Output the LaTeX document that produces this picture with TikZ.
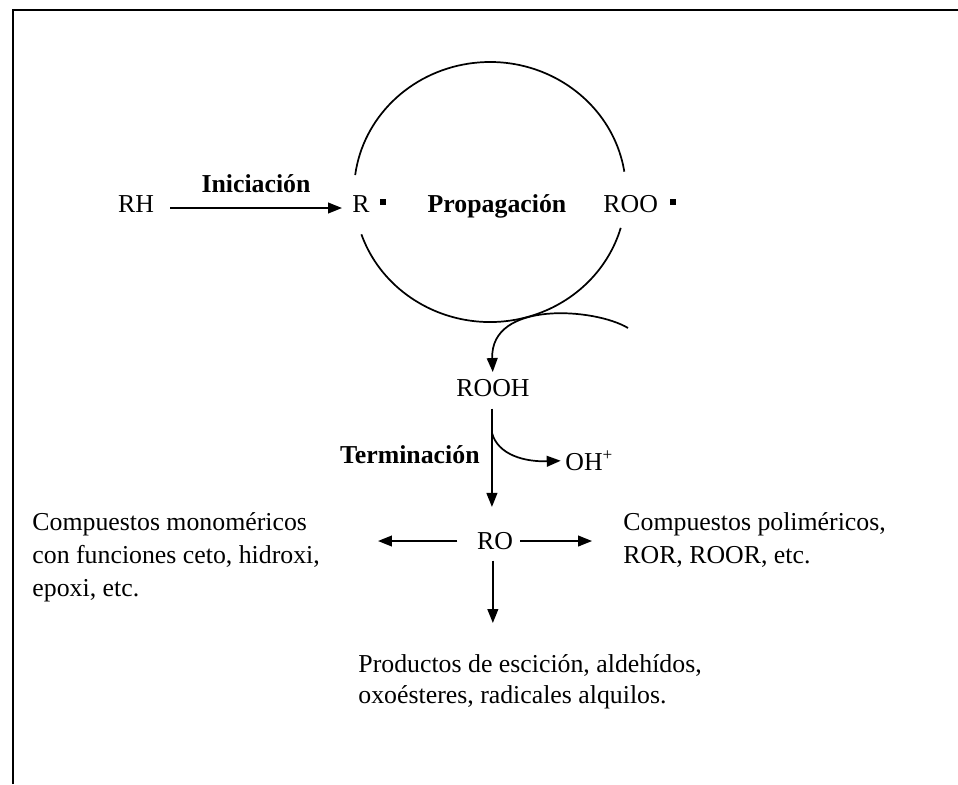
\documentclass[tikz,border=0pt]{standalone}
\usepackage{fontspec}
\setmainfont{Liberation Serif}
\usetikzlibrary{arrows.meta}

\newcommand{\radpunto}{\raisebox{3.3pt}{\rule{2.8pt}{2.8pt}}}

\begin{document}
\begin{tikzpicture}[x=0.465pt, y=0.465pt,
        every node/.style={inner sep=0pt, font=\fontsize{12pt}{15.3pt}\selectfont},
        etiq/.style={font=\fontsize{12pt}{15pt}\selectfont\bfseries},
        flecha/.style={line width=0.8pt, -{Triangle[length=6.5pt, width=5pt]}},
        arco/.style={line width=0.8pt}]
            \useasboundingbox (0,0) rectangle (958,-784);
            \fill[white] (0,0) rectangle (958,-784);
            \draw[line width=1.3pt] (13,-784) -- (13,-10) -- (958,-10); % marco

            \node[anchor=base] (rh) at (136,-212) {RH};
            \node[etiq, anchor=base] (ini) at (256,-192) {Iniciación};
            \node[anchor=base west] (r) at (352,-212) {R\hspace{4.6pt}\radpunto};
            \node[etiq, anchor=base] (prop) at (497,-212) {Propagación};
            \node[anchor=base west] (roo) at (603,-212) {ROO\hspace{5.4pt}\radpunto};

            \coordinate (ciclo) at (490,-192);
            \draw[arco] ([shift={(9:136 and 130)}]ciclo) arc[start angle=9, end angle=172.5, x radius=136, y radius=130];
            \draw[arco] ([shift={(199:136 and 130)}]ciclo) arc[start angle=199, end angle=344, x radius=136, y radius=130];

            \draw[flecha] ([shift={(16,4)}]rh.base east) -- ([shift={(-10,4)}]r.base west); % RH-R

            \node[anchor=base] (rooh) at (493,-396) {ROOH};
            \coordinate (entra) at (628,-328);
            \draw[flecha, shorten >=3pt] (entra) .. controls (595,-308) and (490,-300) .. (rooh.north); % ciclo-ROOH

            \node[etiq, anchor=base east] (term) at (480,-463) {Terminación};
            \node[anchor=base west] (oh) at (565,-470) {OH\textsuperscript{+}};
            \node (ro) at (495,-541) {RO};

            \draw[flecha, shorten <=5.6pt, shorten >=11.6pt] ([xshift=-0.5pt]rooh.south) -- ([xshift=-0.5pt]rooh.south |- ro.north); % ROOH-RO
            \coordinate (sale) at (492,-433);
            \draw[flecha, shorten >=2pt] (sale) .. controls (498,-455) and (525,-462) .. (oh.west); % ROOH-OH

            \node[anchor=base west, align=left] (mono) at (32,-596) {Compuestos monoméricos\\con funciones ceto, hidroxi,\\epoxi, etc.};
            \node[anchor=base west, align=left] (poli) at (623,-563) {Compuestos poliméricos,\\ROR, ROOR, etc.};
            \node[anchor=base west, align=left, font=\fontsize{12pt}{14.4pt}\selectfont] (prod) at (358,-703) {Productos de escición, aldehídos,\\oxoésteres, radicales alquilos.};
            \coordinate (abajo) at (493,-623);

            \draw[flecha, shorten <=9pt] (ro.west) -- (378,-541); % RO-mono
            \draw[flecha, shorten <=3.3pt, shorten >=14.4pt] (ro.east) -- (ro.east -| poli.west); % RO-poli
            \draw[flecha, shorten <=4.9pt] ([xshift=-1pt]ro.south) -- ([xshift=-1pt]ro.south |- abajo); % RO-prod
        \end{tikzpicture}
\end{document}
